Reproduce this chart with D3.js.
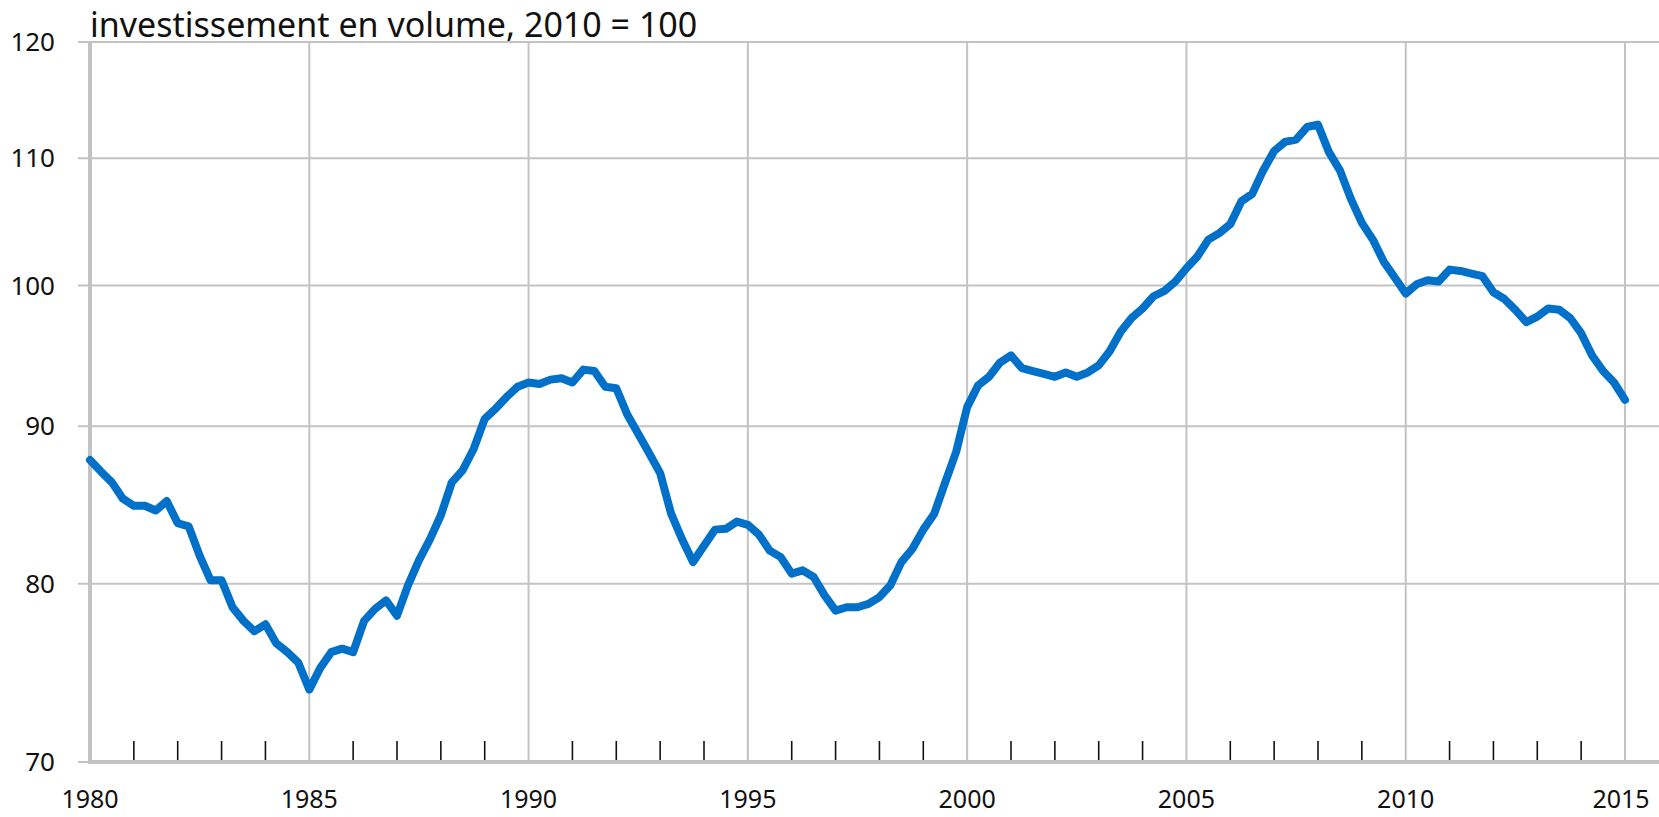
<!DOCTYPE html>
<html>
<head>
<meta charset="utf-8">
<script src="https://cdn.jsdelivr.net/npm/d3@7"></script>
<style>
  body { margin: 0; background: #fff; }
  text { font-family: 'Noto Sans', 'Lato', sans-serif; fill: #111; }
</style>
</head>
<body>
<div id="paper"></div>
<script>
// investissement trimestriel en volume, indice 2010 = 100, 1980T1 -> 2015T1
const startYear = 1980;
const values = [
  87.75, 87.0, 86.3, 85.25, 84.8, 84.8, 84.5, 85.1,
  83.7, 83.5, 81.7, 80.2, 80.2, 78.6, 77.8, 77.2,
  77.6, 76.5, 76.0, 75.4, 73.9, 75.1, 76.0, 76.2,
  76.0, 77.8, 78.5, 79.0, 78.1, 79.9, 81.4, 82.7,
  84.2, 86.3, 87.1, 88.5, 90.5, 91.2, 92.0, 92.7,
  93.0, 92.9, 93.2, 93.3, 93.0, 93.9, 93.8, 92.7,
  92.6, 90.8, 89.5, 88.2, 86.9, 84.3, 82.7, 81.3,
  82.3, 83.3, 83.35, 83.8, 83.6, 83.0, 82.0, 81.6,
  80.6, 80.8, 80.4, 79.3, 78.4, 78.6, 78.6, 78.8,
  79.2, 79.9, 81.3, 82.1, 83.3, 84.3, 86.3, 88.3,
  91.3, 92.8, 93.4, 94.4, 94.9, 94.0, 93.8, 93.6,
  93.4, 93.7, 93.4, 93.7, 94.2, 95.2, 96.6, 97.6,
  98.3, 99.2, 99.6, 100.3, 101.3, 102.2, 103.5, 104.0,
  104.7, 106.5, 107.1, 109.0, 110.6, 111.35, 111.55, 112.6,
  112.8, 110.5, 109.0, 106.7, 104.8, 103.5, 101.8, 100.6,
  99.4, 100.1, 100.4, 100.3, 101.2, 101.1, 100.9, 100.7,
  99.5, 99.0, 98.2, 97.3, 97.7, 98.3, 98.2, 97.6,
  96.5, 94.9, 93.8, 93.0, 91.8
];
const yTicks = [70, 80, 90, 100, 110, 120];
const xLabels = [1980, 1985, 1990, 1995, 2000, 2005, 2010, 2015];
const minorYears = d3.range(1981, 2015).filter(y => y % 5 != 0);
const title = 'investissement en volume, 2010 = 100';

const W = 1659, H = 817;
const mLeft = 90, mTop = 42, mBottom = 762, mRight = 1625;

const x = d3.scaleLinear().domain([1980, 2015]).range([mLeft, mRight]);
const y = d3.scaleLog().domain([70, 120]).range([mBottom, mTop]);

const data = values.map((v, i) => ({ t: startYear + i / 4, v: v }));

const svg = d3.select('#paper')
  .append('svg')
  .attr('width', W)
  .attr('height', H);

// horizontal gridlines
svg.selectAll('.hgrid')
  .data(yTicks)
  .join('line')
  .attr('class', 'hgrid')
  .attr('x1', 78)
  .attr('x2', W)
  .attr('y1', d => y(d))
  .attr('y2', d => y(d))
  .attr('stroke', '#c3c3c3')
  .attr('stroke-width', 2);

// vertical gridlines every 5 years
svg.selectAll('.vgrid')
  .data(xLabels.slice(1))
  .join('line')
  .attr('class', 'vgrid')
  .attr('x1', d => x(d))
  .attr('x2', d => x(d))
  .attr('y1', mTop)
  .attr('y2', mBottom)
  .attr('stroke', '#c3c3c3')
  .attr('stroke-width', 2);

// minor year ticks
svg.selectAll('.minor')
  .data(minorYears)
  .join('line')
  .attr('class', 'minor')
  .attr('x1', d => x(d))
  .attr('x2', d => x(d))
  .attr('y1', mBottom - 21)
  .attr('y2', mBottom)
  .attr('stroke', '#111')
  .attr('stroke-width', 1.6);

// axes lines
svg.append('line')
  .attr('x1', mLeft).attr('x2', mLeft)
  .attr('y1', mTop).attr('y2', mBottom + 2)
  .attr('stroke', '#c3c3c3')
  .attr('stroke-width', 4);
svg.append('line')
  .attr('x1', mLeft - 2).attr('x2', W)
  .attr('y1', mBottom).attr('y2', mBottom)
  .attr('stroke', '#c3c3c3')
  .attr('stroke-width', 4);

// y labels
svg.selectAll('.ylab')
  .data(yTicks)
  .join('text')
  .attr('class', 'ylab')
  .attr('x', 55)
  .attr('y', d => y(d))
  .attr('dy', '0.35em')
  .attr('text-anchor', 'end')
  .attr('font-size', '26px')
  .text(d => d);

// x labels
svg.selectAll('.xlab')
  .data(xLabels)
  .join('text')
  .attr('class', 'xlab')
  .attr('x', d => Math.min(x(d), W - 38))
  .attr('y', 808)
  .attr('text-anchor', 'middle')
  .attr('font-size', '25px')
  .text(d => d);

// title
svg.append('text')
  .attr('x', 90)
  .attr('y', 37)
  .attr('font-size', '34px')
  .text(title);

// series
const line = d3.line()
  .x(d => x(d.t))
  .y(d => y(d.v));

svg.append('path')
  .datum(data)
  .attr('d', line)
  .attr('fill', 'none')
  .attr('stroke', '#0070c8')
  .attr('stroke-width', 8)
  .attr('stroke-linejoin', 'round')
  .attr('stroke-linecap', 'round');
</script>
</body>
</html>
